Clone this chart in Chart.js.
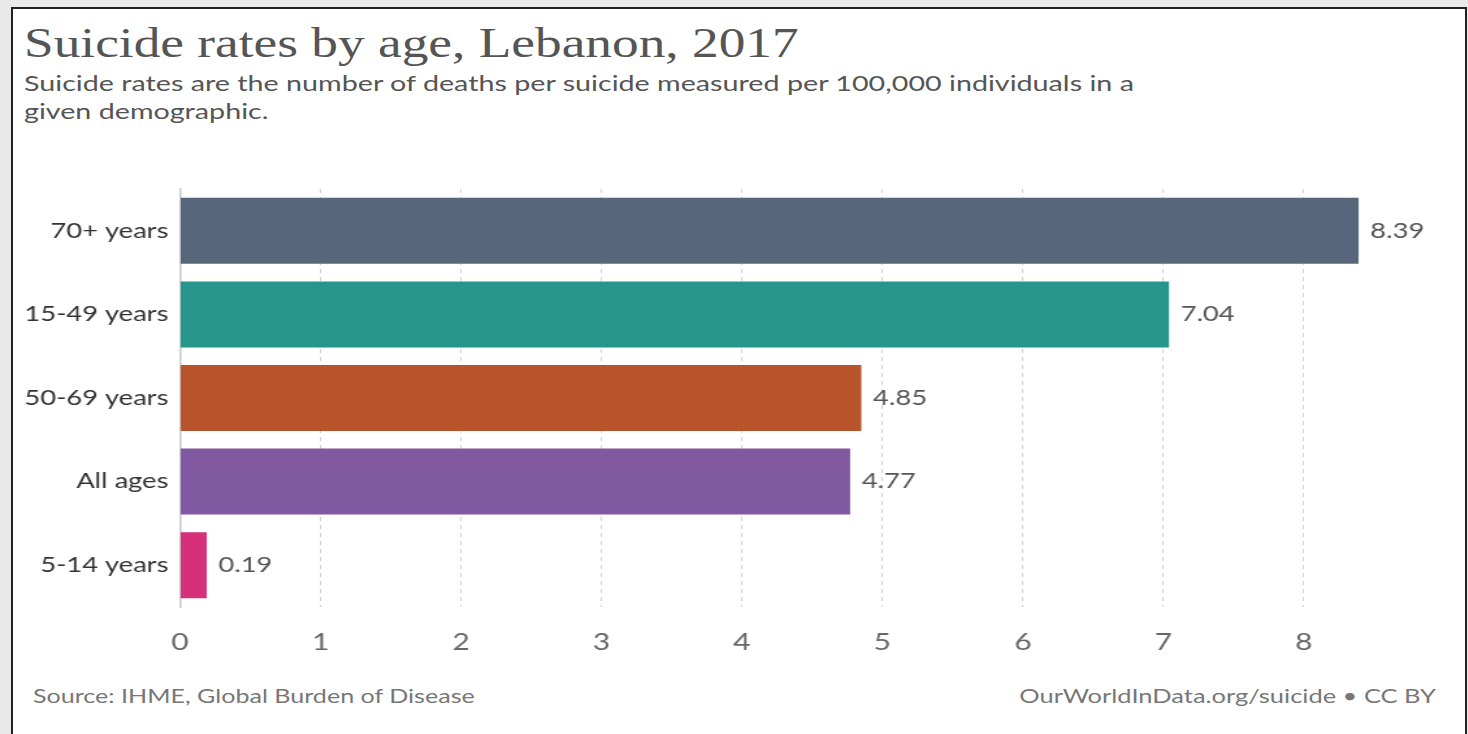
<!DOCTYPE html>
<html>
<head>
<meta charset="utf-8">
<script src="https://cdn.jsdelivr.net/npm/chart.js@4"></script>
<style>
  body { margin: 0; background: #e9e9e9; width: 1468px; height: 734px; overflow: hidden; font-family: Lato, sans-serif; }
  #frame { position: absolute; left: 11px; top: 7px; width: 1452px; height: 740px; border: 2px solid #222; background: #fff; overflow: hidden; }
  .txt { position: absolute; white-space: nowrap; }
  #title { left: 11px; top: 10px; font-family: "Liberation Serif", serif; font-size: 42px; color: #555; transform: scaleX(1.27); transform-origin: left top; }
  #subtitle { left: 11px; top: 60px; font-size: 22px; line-height: 28px; color: #555; transform: scaleX(1.304); transform-origin: left top; }
  #source { left: 20px; top: 675px; font-size: 19px; color: #777; transform: scaleX(1.32); transform-origin: left top; }
  #credit { right: 29px; top: 675px; font-size: 19px; color: #777; transform: scaleX(1.34); transform-origin: right top; }
  #wrap { position: absolute; left: 0px; top: 171px; width: 1117px; height: 490px; transform: scaleX(1.3); transform-origin: left top; }
</style>
</head>
<body>
<div id="frame">
  <div id="title" class="txt">Suicide rates by age, Lebanon, 2017</div>
  <div id="subtitle" class="txt">Suicide rates are the number of deaths per suicide measured per 100,000 individuals in a<br>given demographic.</div>
  <div id="wrap"><canvas id="ageChart"></canvas></div>
  <div id="source" class="txt">Source: IHME, Global Burden of Disease</div>
  <div id="credit" class="txt">OurWorldInData.org/suicide • CC BY</div>
</div>
<script>
// values
const ageGroups = ['70+ years', '15-49 years', '50-69 years', 'All ages', '5-14 years'];
const suicideRates = [8.39, 7.04, 4.85, 4.77, 0.19];
const barColors = ['#58667c', '#26958c', '#b9532b', '#8159a0', '#d6307a'];
const xTicks = [0, 1, 2, 3, 4, 5, 6, 7, 8];

// draw the value right of each bar
const valueLabels = {
    id: 'valueLabels',
    afterDatasetsDraw(chart) {
        const ctx = chart.ctx;
        const meta = chart.getDatasetMeta(0);
        ctx.save();
        ctx.font = '21px Lato';
        ctx.fillStyle = '#555';
        ctx.textBaseline = 'middle';
        meta.data.forEach((bar, i) => {
            ctx.fillText(suicideRates[i].toFixed(2), bar.x + 9, bar.y);
        });
        ctx.restore();
    }
};

const ctx = document.getElementById('ageChart').getContext('2d');
let chart = new Chart(ctx, {
    type: 'bar',
    data: {
        labels: ageGroups,
        datasets: [{
            data: suicideRates,
            backgroundColor: barColors,
            borderWidth: 0,
            categoryPercentage: 1,
            barPercentage: 0.79
        }]
    },
    options: {
        indexAxis: 'y',
        responsive: true,
        maintainAspectRatio: false,
        animation: false,
        layout: { padding: { top: 9, right: 16, bottom: 0, left: 0 } },
        plugins: { legend: { display: false }, tooltip: { enabled: false } },
        scales: {
            x: {
                min: 0,
                max: 9,
                afterBuildTicks: (scale) => { scale.ticks = xTicks.map(v => ({ value: v })); },
                afterFit: (scale) => { scale.height = 63; scale.paddingRight = 0; },
                grid: {
                    color: '#d0d0d0',
                    lineWidth: 1,
                    drawTicks: false
                },
                border: { display: false, dash: [4, 4] },
                ticks: { color: '#666', font: { family: 'Lato', size: 23 }, padding: 22 }
            },
            y: {
                afterFit: (scale) => { scale.width = 128.5; scale.paddingTop = 0; scale.paddingBottom = 0; },
                grid: { display: false, drawTicks: false },
                border: { display: true, color: '#ccc', width: 1.6 },
                ticks: { color: '#333', font: { family: 'Lato', size: 21 }, padding: 9 }
            }
        }
    },
    plugins: [valueLabels]
});
</script>
</body>
</html>
